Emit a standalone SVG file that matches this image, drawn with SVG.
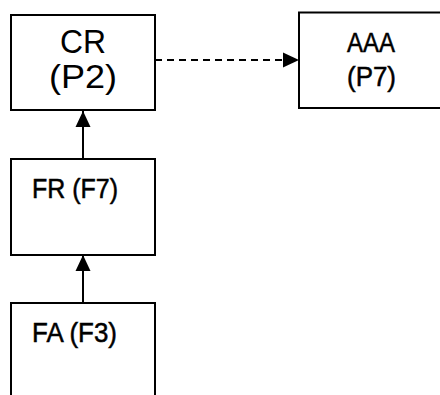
<svg xmlns="http://www.w3.org/2000/svg" width="440" height="395" viewBox="0 0 440 395">
<style>
.box{fill:#fff;stroke:#000;stroke-width:2}
.t{font-family:"Liberation Sans",Arial,sans-serif;fill:#000}
.n{stroke:#000;stroke-width:0.5}
.edge{stroke:#000;stroke-width:2;fill:none}
</style>
<defs>
<marker id="ah" markerWidth="16" markerHeight="16" viewBox="0 0 16 16" refX="16" refY="8" orient="auto" markerUnits="userSpaceOnUse">
<path d="M0,0.5 L16,8 L0,15.5 Z" fill="#000"/>
</marker>
</defs>
<rect width="440" height="395" fill="#fff"/>
<g id="connectors">
<line class="edge" x1="155" y1="60" x2="299" y2="60" stroke-dasharray="7,5" stroke-width="1.6" marker-end="url(#ah)"/>
<line class="edge" x1="83" y1="159" x2="83" y2="111" marker-end="url(#ah)"/>
<line class="edge" x1="83" y1="303" x2="83" y2="255" marker-end="url(#ah)"/>
</g>
<g id="CR">
<rect class="box" x="11" y="15" width="144" height="95"/>
<text class="t" x="83" y="53" font-size="34" text-anchor="middle" textLength="46" lengthAdjust="spacingAndGlyphs">CR</text>
<text class="t" x="83" y="88" font-size="34" text-anchor="middle" textLength="68" lengthAdjust="spacingAndGlyphs">(P2)</text>
</g>
<g id="AAA">
<rect class="box" x="299" y="12.5" width="144" height="95.5" stroke-width="1.6"/>
<text class="t n" x="371" y="52" font-size="27" text-anchor="middle" textLength="48" lengthAdjust="spacingAndGlyphs">AAA</text>
<text class="t n" x="371.5" y="86" font-size="27" text-anchor="middle" textLength="49" lengthAdjust="spacingAndGlyphs">(P7)</text>
</g>
<g id="FR">
<rect class="box" x="11" y="159" width="144" height="96"/>
<text class="t n" x="32" y="198" font-size="27" textLength="86" lengthAdjust="spacingAndGlyphs">FR (F7)</text>
</g>
<g id="FA">
<rect class="box" x="11" y="303" width="144" height="110"/>
<text class="t n" x="32" y="342" font-size="27" textLength="85" lengthAdjust="spacingAndGlyphs">FA (F3)</text>
</g>
</svg>
